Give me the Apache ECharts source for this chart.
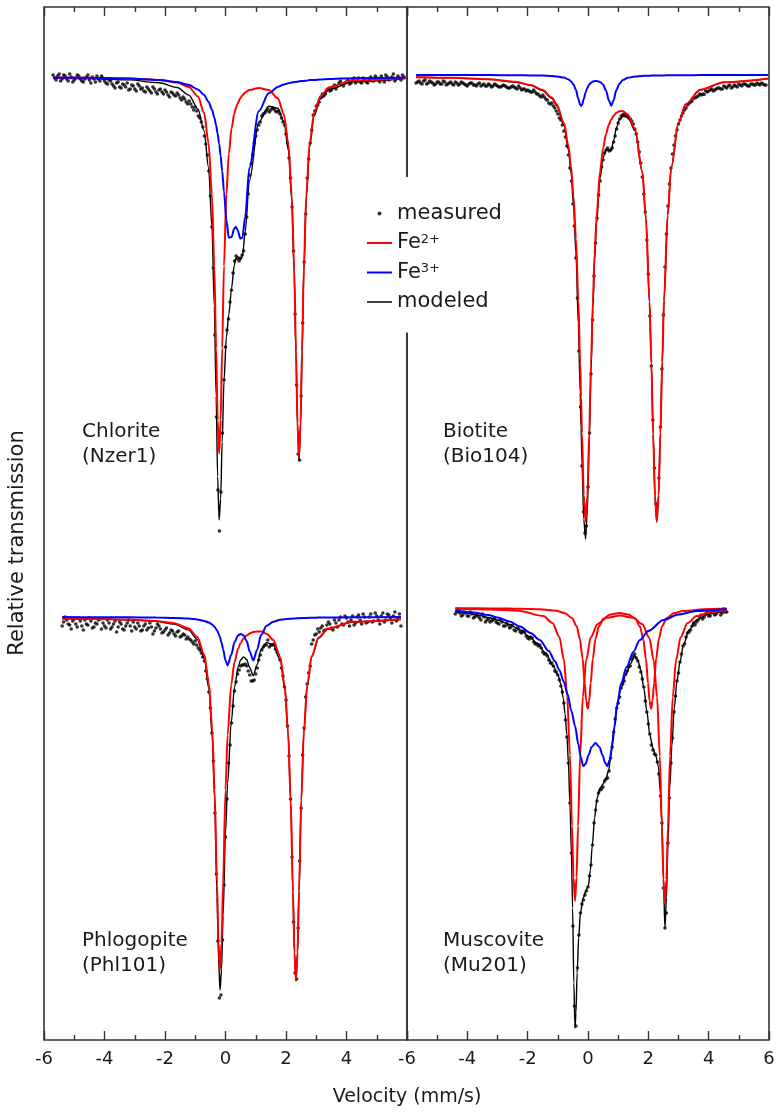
<!DOCTYPE html>
<html>
<head>
<meta charset="utf-8">
<title>Mössbauer spectra of four micas and chlorite</title>
<script src="https://cdn.jsdelivr.net/npm/echarts@6/dist/echarts.min.js"></script>
<style>
  html, body { margin: 0; padding: 0; background: #fff; }
  #chart { width: 779px; height: 1112px; }
</style>
</head>
<body>
<div id="chart"></div>
<script>
// velocity channels (mm/s) of the measured spectra
const wideChannels = [-5.7,-5.65,-5.6,-5.55,-5.5,-5.45,-5.4,-5.35,-5.3,-5.25,-5.2,-5.15,-5.1,-5.05,
  -5.0,-4.95,-4.9,-4.85,-4.8,-4.75,-4.7,-4.65,-4.6,-4.55,-4.5,-4.45,-4.4,-4.35,-4.3,-4.25,-4.2,-4.15,-4.1,-4.05,
  -4.0,-3.95,-3.9,-3.85,-3.8,-3.75,-3.7,-3.65,-3.6,-3.55,-3.5,-3.45,-3.4,-3.35,-3.3,-3.25,-3.2,-3.15,-3.1,-3.05,
  -3.0,-2.95,-2.9,-2.85,-2.8,-2.75,-2.7,-2.65,-2.6,-2.55,-2.5,-2.45,-2.4,-2.35,-2.3,-2.25,-2.2,-2.15,-2.1,-2.05,
  -2.0,-1.95,-1.9,-1.85,-1.8,-1.75,-1.7,-1.65,-1.6,-1.55,-1.5,-1.45,-1.4,-1.35,-1.3,-1.25,-1.2,-1.15,-1.1,-1.05,
  -1.0,-0.95,-0.9,-0.85,-0.8,-0.75,-0.7,-0.65,-0.6,-0.55,-0.5,-0.45,-0.4,-0.35,-0.3,-0.25,-0.2,-0.15,-0.1,-0.05,
  0.0,0.05,0.1,0.15,0.2,0.25,0.3,0.35,0.4,0.45,0.5,0.55,0.6,0.65,0.7,0.75,0.8,0.85,0.9,0.95,
  1.0,1.05,1.1,1.15,1.2,1.25,1.3,1.35,1.4,1.45,1.5,1.55,1.6,1.65,1.7,1.75,1.8,1.85,1.9,1.95,
  2.0,2.05,2.1,2.15,2.2,2.25,2.3,2.35,2.4,2.45,2.5,2.55,2.6,2.65,2.7,2.75,2.8,2.85,2.9,2.95,
  3.0,3.05,3.1,3.15,3.2,3.25,3.3,3.35,3.4,3.45,3.5,3.55,3.6,3.65,3.7,3.75,3.8,3.85,3.9,3.95,
  4.0,4.05,4.1,4.15,4.2,4.25,4.3,4.35,4.4,4.45,4.5,4.55,4.6,4.65,4.7,4.75,4.8,4.85,4.9,4.95,
  5.0,5.05,5.1,5.15,5.2,5.25,5.3,5.35,5.4,5.45,5.5,5.55,5.6,5.65,5.7,5.75,5.8,5.85,5.9]
const phlogopiteChannels = [-5.4,-5.35,-5.3,-5.25,-5.2,-5.15,-5.1,-5.05,
  -5.0,-4.95,-4.9,-4.85,-4.8,-4.75,-4.7,-4.65,-4.6,-4.55,-4.5,-4.45,-4.4,-4.35,-4.3,-4.25,-4.2,-4.15,-4.1,-4.05,
  -4.0,-3.95,-3.9,-3.85,-3.8,-3.75,-3.7,-3.65,-3.6,-3.55,-3.5,-3.45,-3.4,-3.35,-3.3,-3.25,-3.2,-3.15,-3.1,-3.05,
  -3.0,-2.95,-2.9,-2.85,-2.8,-2.75,-2.7,-2.65,-2.6,-2.55,-2.5,-2.45,-2.4,-2.35,-2.3,-2.25,-2.2,-2.15,-2.1,-2.05,
  -2.0,-1.95,-1.9,-1.85,-1.8,-1.75,-1.7,-1.65,-1.6,-1.55,-1.5,-1.45,-1.4,-1.35,-1.3,-1.25,-1.2,-1.15,-1.1,-1.05,
  -1.0,-0.95,-0.9,-0.85,-0.8,-0.75,-0.7,-0.65,-0.6,-0.55,-0.5,-0.45,-0.4,-0.35,-0.3,-0.25,-0.2,-0.15,-0.1,-0.05,
  0.0,0.05,0.1,0.15,0.2,0.25,0.3,0.35,0.4,0.45,0.5,0.55,0.6,0.65,0.7,0.75,0.8,0.85,0.9,0.95,
  1.0,1.05,1.1,1.15,1.2,1.25,1.3,1.35,1.4,1.45,1.5,1.55,1.6,1.65,1.7,1.75,1.8,1.85,1.9,1.95,
  2.0,2.05,2.1,2.15,2.2,2.25,2.3,2.35,2.4,2.45,2.5,2.55,2.6,2.65,2.7,2.75,2.8,2.85,2.9,2.95,
  3.0,3.05,3.1,3.15,3.2,3.25,3.3,3.35,3.4,3.45,3.5,3.55,3.6,3.65,3.7,3.75,3.8,3.85,3.9,3.95,
  4.0,4.05,4.1,4.15,4.2,4.25,4.3,4.35,4.4,4.45,4.5,4.55,4.6,4.65,4.7,4.75,4.8,4.85,4.9,4.95,
  5.0,5.05,5.1,5.15,5.2,5.25,5.3,5.35,5.4,5.45,5.5,5.55,5.6,5.65,5.7,5.75,5.8]
const muscoviteChannels = [-4.4,-4.35,-4.3,-4.25,-4.2,-4.15,-4.1,-4.05,
  -4.0,-3.95,-3.9,-3.85,-3.8,-3.75,-3.7,-3.65,-3.6,-3.55,-3.5,-3.45,-3.4,-3.35,-3.3,-3.25,-3.2,-3.15,-3.1,-3.05,
  -3.0,-2.95,-2.9,-2.85,-2.8,-2.75,-2.7,-2.65,-2.6,-2.55,-2.5,-2.45,-2.4,-2.35,-2.3,-2.25,-2.2,-2.15,-2.1,-2.05,
  -2.0,-1.95,-1.9,-1.85,-1.8,-1.75,-1.7,-1.65,-1.6,-1.55,-1.5,-1.45,-1.4,-1.35,-1.3,-1.25,-1.2,-1.15,-1.1,-1.05,
  -1.0,-0.95,-0.9,-0.85,-0.8,-0.75,-0.7,-0.65,-0.6,-0.55,-0.5,-0.45,-0.4,-0.35,-0.3,-0.25,-0.2,-0.15,-0.1,-0.05,
  0.0,0.05,0.1,0.15,0.2,0.25,0.3,0.35,0.4,0.45,0.5,0.55,0.6,0.65,0.7,0.75,0.8,0.85,0.9,0.95,
  1.0,1.05,1.1,1.15,1.2,1.25,1.3,1.35,1.4,1.45,1.5,1.55,1.6,1.65,1.7,1.75,1.8,1.85,1.9,1.95,
  2.0,2.05,2.1,2.15,2.2,2.25,2.3,2.35,2.4,2.45,2.5,2.55,2.6,2.65,2.7,2.75,2.8,2.85,2.9,2.95,
  3.0,3.05,3.1,3.15,3.2,3.25,3.3,3.35,3.4,3.45,3.5,3.55,3.6,3.65,3.7,3.75,3.8,3.85,3.9,3.95,
  4.0,4.05,4.1,4.15,4.2,4.25,4.3,4.35,4.4,4.45,4.5,4.55,4.6]

// relative transmission, stacked (arbitrary units, top spectra near 96, bottom near 42)
// Chlorite (Nzer1)
const chloriteMeasured = [96.5,96.2,96.0,96.4,96.6,95.9,96.1,96.5,96.4,96.1,95.9,96.6,96.3,95.8,
  96.0,96.2,96.5,96.4,96.1,95.9,95.8,96.1,96.3,96.5,96.0,95.7,96.3,96.1,95.8,96.4,96.1,95.9,96.4,96.2,
  95.9,95.7,95.6,96.0,95.9,95.6,95.4,95.2,95.7,95.8,95.3,95.2,95.6,95.5,95.3,95.7,95.0,95.1,95.5,95.4,
  95.1,94.9,95.6,95.4,95.1,95.2,94.9,94.8,95.3,95.1,94.9,94.7,95.3,95.1,94.8,94.6,95.0,95.1,94.8,94.6,
  95.0,94.8,94.5,94.3,94.8,94.7,94.5,94.4,94.7,94.5,94.2,94.0,94.3,94.1,93.8,93.6,93.9,93.6,93.3,93.0,
  93.3,92.9,92.4,92.2,91.8,91.3,90.4,89.6,88.5,86.9,84.4,81.3,77.2,70.5,62.3,55.0,50.9,54.8,60.7,66.0,
  69.3,71.0,72.1,73.8,75.0,76.7,77.9,78.4,78.1,77.9,78.2,78.5,78.9,80.6,82.3,84.6,86.5,87.6,88.5,89.7,
  90.4,91.0,91.5,91.8,92.4,92.6,92.7,92.9,93.1,92.8,93.0,93.2,93.1,92.9,92.8,92.9,92.6,92.2,91.8,91.5,
  90.6,89.7,88.2,86.2,83.3,78.9,72.6,65.5,58.6,58.0,64.4,71.7,77.8,82.6,86.2,88.1,89.7,91.0,92.5,92.9,
  93.4,93.5,93.8,94.3,94.6,94.4,94.6,95.0,95.1,94.9,95.0,95.3,95.5,95.1,95.4,95.7,95.9,95.6,95.4,95.7,
  95.8,96.0,95.6,95.7,96.0,96.2,95.7,95.9,96.2,95.8,95.7,96.2,96.0,95.8,95.7,96.1,96.3,95.9,95.9,96.4,
  96.2,96.0,95.8,96.4,96.1,95.8,96.5,96.3,96.0,96.1,96.3,96.6,95.9,96.1,96.4,96.2,96.0,96.5,96.3]
const chloriteCurveV = [-5.7,-4.5,-3.2,-2.2,-1.6,-1.21,-0.91,-0.71,-0.56,-0.45,-0.37,-0.31,-0.26,-0.21,-0.16,-0.11,-0.05,0.03,0.11,0.2,0.29,0.34,0.4,0.49,0.56,0.65,0.79,1.1,1.43,1.73,1.93,2.08,2.19,2.27,2.33,2.38,2.43,2.48,2.53,2.59,2.67,2.78,2.93,3.13,3.43,4.2,5.95]
const chloriteFe2 = [96.25,96.23,96.16,96.01,95.75,95.29,94.35,92.72,89.7,84.63,77.43,69.22,62.01,58.67,62.01,69.21,77.41,84.61,88.62,91.16,92.62,93.17,93.65,94.18,94.47,94.75,95.0,95.21,95.0,94.17,92.58,89.58,84.49,77.23,68.96,61.7,58.34,61.7,68.97,77.25,84.52,89.65,92.69,94.33,95.27,95.94,96.2]
const chloriteFe3 = [96.25,96.22,96.15,96.01,95.8,95.5,95.05,94.51,93.83,93.05,92.26,91.47,90.64,89.62,88.39,86.89,84.82,82.01,80.23,80.3,81.16,81.31,81.01,80.14,80.23,82.33,87.22,92.88,94.67,95.31,95.55,95.68,95.75,95.79,95.81,95.83,95.87,95.88,95.9,95.91,95.93,95.99,96.01,96.06,96.1,96.18,96.24]
const chloriteModel = [96.2,96.15,96.01,95.72,95.25,94.49,93.1,90.93,87.23,81.4,73.4,64.4,56.35,52.0,54.1,59.8,65.93,70.32,72.55,75.16,77.48,78.18,78.36,78.02,78.4,80.78,85.92,91.79,93.37,93.18,91.83,88.96,83.94,76.72,68.47,61.23,57.91,61.28,68.57,76.86,84.15,89.34,92.4,94.09,95.07,95.82,96.14]

// Biotite (Bio104)
const biotiteMeasured = [95.7,95.8,95.9,95.7,95.6,95.9,96.0,95.6,95.7,95.9,95.8,95.7,95.5,95.6,
  95.8,95.8,95.6,95.6,95.9,95.8,95.5,95.6,95.7,95.8,95.6,95.5,95.8,95.7,95.5,95.6,95.8,95.7,95.6,95.5,
  95.4,95.6,95.7,95.7,95.5,95.5,95.4,95.6,95.7,95.4,95.5,95.6,95.4,95.4,95.6,95.5,95.3,95.4,95.6,95.5,
  95.4,95.3,95.3,95.4,95.5,95.4,95.3,95.2,95.2,95.3,95.4,95.3,95.2,95.1,95.4,95.2,95.0,95.1,95.1,94.9,
  95.0,94.9,94.8,94.8,95.0,94.8,94.6,94.6,94.4,94.3,94.5,94.3,94.1,94.0,93.7,93.6,93.7,93.4,93.2,92.9,
  92.6,92.2,92.0,91.5,90.9,90.3,89.4,88.5,87.2,85.9,83.6,81.4,78.2,74.2,68.9,63.3,57.4,52.8,50.7,51.4,
  55.3,60.7,66.6,72.0,76.4,79.7,82.2,84.5,85.9,87.3,88.0,88.7,89.0,89.2,88.9,89.0,89.2,89.8,90.4,91.1,
  91.7,92.1,92.4,92.5,92.6,92.5,92.4,92.2,92.1,91.9,91.6,91.1,90.6,89.8,88.8,87.7,86.3,84.6,82.8,80.0,
  76.6,72.4,67.4,62.0,57.2,53.6,53.5,56.2,61.3,67.1,72.5,77.3,80.6,83.4,85.6,87.2,88.6,89.5,90.4,91.0,
  91.6,92.0,92.4,92.7,93.0,93.2,93.5,93.65,93.8,93.9,94.2,94.2,94.3,94.4,94.6,94.5,94.6,94.55,94.9,94.8,
  94.9,95.0,95.1,94.9,95.0,95.1,95.2,95.2,95.1,95.1,95.4,95.3,95.2,95.4,95.5,95.2,95.3,95.5,95.4,95.3,
  95.6,95.5,95.4,95.6,95.6,95.5,95.4,95.4,95.6,95.6,95.5,95.5,95.7,95.6,95.5,95.7,95.6,95.5,95.5]
const biotiteCurveV = [-5.7,-4.5,-3.3,-2.4,-1.9,-1.52,-1.2,-1.04,-0.8,-0.65,-0.56,-0.48,-0.4,-0.32,-0.26,-0.23,-0.2,-0.14,-0.08,-0.02,0.04,0.1,0.16,0.22,0.28,0.4,0.5,0.6,0.69,0.77,0.85,0.94,1.04,1.16,1.32,1.56,1.8,1.92,2.04,2.1,2.16,2.22,2.28,2.34,2.4,2.46,2.52,2.64,2.76,3.0,3.24,3.72,4.5,5.97]
const biotiteFe2 = [96.28,96.22,96.08,95.82,95.5,95.03,94.26,93.58,91.73,89.46,87.27,84.38,80.18,73.98,67.78,64.3,60.71,54.47,51.85,54.42,60.62,67.65,73.79,78.61,82.19,86.87,89.18,90.63,91.52,92.06,92.44,92.72,92.88,92.88,92.55,91.06,86.87,82.19,73.79,67.65,60.62,54.42,51.85,54.47,60.71,67.78,73.98,82.48,87.27,91.73,93.58,95.03,95.77,96.15]
const biotiteFe3 = [96.5,96.49,96.49,96.48,96.46,96.44,96.4,96.36,96.24,96.06,95.85,95.54,94.99,94.12,93.52,93.42,93.51,94.09,94.75,95.23,95.54,95.73,95.84,95.9,95.91,95.81,95.54,94.93,93.98,93.42,94.0,94.99,95.63,96.0,96.22,96.35,96.41,96.42,96.43,96.44,96.44,96.45,96.45,96.45,96.46,96.46,96.46,96.47,96.47,96.48,96.48,96.49,96.49,96.5]
const biotiteModel = [96.28,96.21,96.06,95.8,95.46,94.97,94.16,93.44,91.47,89.02,86.62,83.42,78.67,71.6,64.8,61.22,57.72,52.06,50.1,53.15,59.66,66.88,73.13,78.01,81.6,86.18,88.22,89.06,89.0,88.98,89.94,91.21,92.01,92.38,92.27,90.91,86.78,82.11,73.72,67.59,60.56,54.37,51.8,54.42,60.67,67.74,73.94,82.45,87.24,91.71,93.56,95.02,95.76,96.14]

// Phlogopite (Phl101)
const phlogopiteMeasured = [41.4,41.8,42.3,42.0,41.6,41.5,41.1,41.9,
  42.1,41.6,41.3,42.2,41.9,41.4,41.0,42.0,41.6,41.5,42.2,41.9,41.2,41.3,41.7,41.6,42.0,42.1,41.1,41.7,
  41.4,41.2,42.0,41.7,41.1,41.3,41.6,41.9,40.8,41.3,41.8,41.6,41.1,41.0,41.4,41.7,42.0,41.4,40.9,41.8,
  41.3,41.1,41.7,41.4,40.9,41.0,41.4,41.6,41.0,41.2,41.7,41.3,40.6,40.9,41.2,41.6,41.4,41.1,40.7,40.8,
  41.0,41.2,40.5,40.7,41.0,40.9,40.6,40.4,40.8,40.9,40.3,40.4,40.6,40.5,40.1,40.3,40.1,40.0,39.8,39.6,
  39.9,39.5,39.2,39.0,38.7,38.3,37.9,36.9,36.1,34.8,33.2,30.7,27.9,22.7,16.6,9.9,4.2,4.5,10.0,15.5,
  20.3,24.1,27.7,29.5,31.7,33.4,34.9,35.8,36.6,37.0,37.4,37.5,37.5,37.6,37.4,36.9,36.5,35.9,35.9,36.0,
  36.6,37.2,38.0,38.5,39.0,39.3,39.5,39.5,40.0,39.3,39.5,39.5,39.6,39.1,38.8,38.5,38.0,37.2,36.4,35.3,
  34.0,31.4,28.4,24.1,18.3,11.8,6.7,6.1,11.2,17.9,23.2,28.5,31.2,34.3,35.6,36.7,37.4,39.6,40.0,40.5,
  40.6,41.1,40.8,41.2,41.4,40.9,41.0,41.5,41.8,41.6,41.2,41.0,42.0,41.7,41.3,42.0,42.3,41.6,41.5,42.4,
  42.2,41.8,41.4,42.0,42.4,41.5,41.7,42.3,42.5,42.0,41.6,42.6,42.3,41.7,41.8,42.3,42.6,41.8,41.9,42.7,
  42.4,42.0,41.6,42.4,42.7,41.8,42.0,42.6,42.5,42.2,41.7,42.4,42.8,41.9,42.1,42.6,41.4]
const phlogopiteCurveV = [-5.4,-4.3,-3.2,-2.3,-1.7,-1.23,-0.93,-0.7,-0.55,-0.44,-0.36,-0.28,-0.23,-0.18,-0.13,-0.08,0.0,0.07,0.19,0.3,0.42,0.5,0.6,0.7,0.8,0.92,1.04,1.18,1.36,1.58,1.81,1.96,2.07,2.155,2.23,2.28,2.33,2.38,2.43,2.505,2.59,2.7,2.85,3.08,3.38,4.2,5.8]
const phlogopiteFe2 = [42.14,42.11,42.05,41.91,41.68,41.17,40.3,38.52,35.67,31.15,25.06,15.67,9.7,7.03,9.66,15.63,25.01,30.48,35.56,37.82,39.16,39.7,40.16,40.46,40.66,40.79,40.84,40.84,40.62,40.0,38.27,35.39,30.77,24.0,14.87,8.73,6.03,8.75,14.89,24.04,30.82,35.47,38.4,40.24,41.14,41.83,42.08]
const phlogopiteFe3 = [42.29,42.28,42.27,42.25,42.21,42.14,42.05,41.91,41.74,41.54,41.31,40.96,40.66,40.25,39.73,39.08,37.96,37.46,38.52,39.79,40.47,40.6,40.44,39.89,38.86,37.94,39.0,40.52,41.42,41.83,42.02,42.08,42.11,42.13,42.14,42.15,42.17,42.18,42.18,42.19,42.2,42.21,42.22,42.24,42.25,42.27,42.29]
const phlogopiteModel = [42.13,42.1,42.02,41.86,41.59,41.01,40.05,38.13,35.11,30.39,24.07,14.33,8.06,4.98,7.09,12.41,20.67,25.64,31.78,35.31,37.33,38.0,38.3,38.05,37.22,36.43,37.54,39.06,39.74,39.53,37.99,35.17,30.58,23.83,14.71,8.58,5.9,8.63,14.77,23.93,30.72,35.38,38.32,40.18,41.09,41.8,42.07]

// Muscovite (Mu201)
const muscoviteMeasured = [42.6,42.8,43.1,42.7,42.4,42.5,42.8,42.7,
  42.4,42.4,42.8,42.6,42.2,42.3,42.5,42.4,42.2,42.0,42.6,42.3,41.8,42.0,42.1,41.8,41.9,42.0,42.2,41.8,
  41.7,41.6,42.0,41.8,41.4,41.4,41.7,41.5,41.2,41.3,41.5,41.0,40.9,41.2,41.1,40.8,40.7,40.9,40.8,40.4,
  40.2,40.1,40.3,40.2,39.8,39.6,39.6,39.4,39.5,39.2,38.8,38.6,38.6,38.4,38.0,37.7,37.7,37.4,36.9,36.8,
  36.5,36.0,35.4,34.8,33.7,32.0,30.3,27.7,23.7,18.7,11.4,3.4,1.4,7.2,10.5,12.7,13.6,14.0,14.5,14.9,
  15.3,16.4,17.5,19.5,21.7,23.0,23.9,24.7,25.0,25.1,25.3,25.9,26.1,26.2,26.9,28.2,29.3,30.8,32.1,33.2,
  33.7,34.3,35.2,35.6,35.9,36.6,36.9,37.3,37.4,38.1,38.4,38.6,38.2,37.9,37.3,36.8,36.1,35.3,33.9,32.8,
  31.6,30.6,29.5,29.0,28.6,28.5,27.8,26.6,24.4,21.7,15.2,11.2,12.7,19.7,24.2,27.7,30.2,32.8,34.4,35.9,
  36.7,37.8,38.6,39.4,39.6,40.3,40.7,40.8,41.0,41.4,41.7,41.5,41.8,42.0,42.3,42.5,42.1,42.3,42.6,42.8,
  42.4,42.4,43.0,42.9,42.5,42.6,43.0,42.9,42.5,42.7,43.1,42.8,42.8]
const muscoviteFe2InnerV = [-4.4,-3.2,-2.2,-1.6,-1.06,-0.76,-0.53,-0.38,-0.27,-0.18,-0.11,-0.06,-0.01,0.04,0.09,0.16,0.25,0.36,0.51,0.74,1.04,1.34,1.57,1.72,1.83,1.92,1.99,2.04,2.09,2.14,2.19,2.26,2.35,2.46,2.61,2.84,3.14,4.0,4.6]
const muscoviteFe2Inner = [43.18,43.16,43.12,43.07,42.92,42.68,42.19,41.41,40.15,38.15,35.71,33.94,33.13,33.93,35.7,38.13,40.12,41.37,42.12,42.56,42.69,42.56,42.12,41.36,40.12,38.12,35.7,33.93,33.13,33.94,35.71,38.14,40.15,41.41,42.19,42.67,42.91,43.1,43.14]
const muscoviteFe2OuterV = [-4.4,-3.2,-2.3,-1.48,-1.18,-0.95,-0.8,-0.69,-0.6,-0.53,-0.48,-0.43,-0.38,-0.33,-0.26,-0.17,-0.06,0.09,0.32,0.62,1.06,1.5,1.8,2.03,2.18,2.29,2.38,2.45,2.5,2.55,2.6,2.65,2.72,2.81,2.92,3.07,3.3,3.6,4.1,4.6]
const muscoviteFe2Outer = [43.13,43.06,42.93,42.4,41.71,40.31,38.04,34.37,28.52,21.42,16.26,13.9,16.24,21.4,28.5,34.34,37.99,40.25,41.61,42.23,42.44,42.22,41.59,40.22,37.95,34.27,28.39,21.25,16.05,13.7,16.06,21.27,28.41,34.3,37.99,40.28,41.69,42.39,42.81,42.97]
const muscoviteFe3V = [-4.4,-3.8,-3.3,-3.0,-2.6,-2.25,-1.9,-1.6,-1.3,-1.1,-0.95,-0.8,-0.68,-0.55,-0.43,-0.32,-0.24,-0.16,-0.08,0.02,0.12,0.25,0.38,0.48,0.57,0.64,0.72,0.8,0.88,0.97,1.1,1.28,1.5,1.72,2.0,2.5,3.0,3.6,4.6]
const muscoviteFe3 = [42.95,42.75,42.5,42.25,41.85,41.35,40.7,40.0,38.9,37.9,37.0,35.8,34.6,32.9,31.4,29.6,28.3,27.4,27.6,28.5,29.3,29.7,29.3,28.5,27.7,27.4,28.0,29.4,31.3,33.6,35.7,37.3,38.8,40.0,40.9,42.0,42.55,42.9,43.1]
const muscoviteModelV = [-4.4,-4.0,-3.6,-3.3,-3.0,-2.6,-2.25,-1.95,-1.7,-1.4,-1.15,-1.0,-0.9,-0.82,-0.76,-0.7,-0.65,-0.6,-0.55,-0.51,-0.47,-0.43,-0.4,-0.36,-0.31,-0.25,-0.16,-0.06,0.01,0.08,0.14,0.22,0.3,0.4,0.5,0.6,0.68,0.76,0.84,0.95,1.1,1.25,1.4,1.55,1.65,1.75,1.85,1.95,2.05,2.15,2.25,2.33,2.4,2.45,2.5,2.55,2.6,2.65,2.71,2.78,2.86,2.95,3.05,3.16,3.35,3.6,4.0,4.6]
const muscoviteModel = [42.85,42.7,42.45,42.25,42.0,41.55,41.0,40.35,39.7,38.7,37.4,36.5,35.6,34.2,32.6,30.5,27.7,23.7,18.7,13.2,5.7,1.2,2.7,6.7,10.2,12.7,14.2,15.0,15.4,17.0,19.4,22.2,24.2,25.2,25.6,26.2,26.9,28.4,30.7,33.2,35.2,36.5,37.6,38.4,38.0,37.0,35.2,32.9,30.5,29.2,28.4,27.4,24.7,21.7,16.2,11.2,14.2,19.7,25.2,29.4,33.2,35.9,37.8,39.5,41.0,42.0,42.6,42.95]

const FONT = 'DejaVu Sans'
const TEXT = '#1a1a1a'
const FRAME = '#333'
const RED = '#ff0000'
const BLUE = '#0000ff'

const chart = echarts.init(document.getElementById('chart'), null, { renderer: 'canvas' })

function pairs(xs, ys) {
  return xs.map((x, i) => [x, ys[i]])
}

function curve(name, color, width, grid, xs, ys) {
  return {
    name,
    type: 'line',
    xAxisIndex: grid * 2,
    yAxisIndex: grid,
    data: pairs(xs, ys),
    symbol: 'none',
    smooth: 0.3,
    smoothMonotone: 'x',
    lineStyle: { color, width },
    itemStyle: { color },
    silent: true
  }
}

function measured(grid, xs, ys) {
  return {
    name: 'measured',
    type: 'scatter',
    xAxisIndex: grid * 2,
    yAxisIndex: grid,
    data: pairs(xs, ys),
    symbol: 'circle',
    symbolSize: 3.6,
    itemStyle: { color: '#000' },
    silent: true
  }
}

function velocityAxes(grid, hideLast) {
  const common = {
    type: 'value',
    gridIndex: grid,
    min: -6,
    max: 6,
    interval: 2,
    axisLine: { show: false },
    axisTick: { show: true, inside: true, length: 9, lineStyle: { color: FRAME, width: 1.4 } },
    minorTick: { show: true, splitNumber: 2, length: 5, lineStyle: { color: FRAME, width: 1.4 } },
    splitLine: { show: false },
    minorSplitLine: { show: false }
  }
  return [
    {
      ...common,
      position: 'bottom',
      axisLabel: {
        show: true,
        margin: 10,
        color: TEXT,
        fontFamily: FONT,
        fontSize: 18,
        showMaxLabel: !hideLast
      }
    },
    { ...common, position: 'top', axisLabel: { show: false } }
  ]
}

function transmissionAxis(grid) {
  return {
    type: 'value',
    gridIndex: grid,
    min: 0,
    max: 103.3,
    axisLine: { show: false },
    axisTick: { show: false },
    axisLabel: { show: false },
    splitLine: { show: false }
  }
}

function textMark(x, y, text, size, align, rotation) {
  return {
    type: 'text',
    x,
    y,
    rotation: rotation || 0,
    silent: true,
    style: {
      text,
      fill: TEXT,
      font: `${size}px "${FONT}"`,
      lineHeight: 25,
      align,
      verticalAlign: 'middle',
      textAlign: align,
      textVerticalAlign: 'middle'
    }
  }
}

const gridBase = {
  top: 7,
  height: 1033,
  show: true,
  borderColor: FRAME,
  borderWidth: 1.6,
  backgroundColor: 'transparent',
  outerBoundsMode: 'none'
}

chart.setOption({
  animation: false,
  backgroundColor: '#fff',
  grid: [
    { ...gridBase, left: 44, width: 363 },
    { ...gridBase, left: 407, width: 362 }
  ],
  xAxis: [...velocityAxes(0, true), ...velocityAxes(1, false)],
  yAxis: [transmissionAxis(0), transmissionAxis(1)],
  legend: {
    data: [
      { name: 'measured', icon: 'circle' },
      { name: 'Fe2+', icon: 'path://M0,0H25V2H0Z' },
      { name: 'Fe3+', icon: 'path://M0,0H25V2H0Z' },
      { name: 'modeled', icon: 'path://M0,0H25V1.5H0Z' }
    ],
    orient: 'vertical',
    left: 360,
    top: 177,
    padding: [26, 16, 20, 7],
    itemWidth: 25,
    itemHeight: 4,
    itemGap: 8.5,
    backgroundColor: '#fff',
    selectedMode: false,
    formatter: (name) => {
      if (name === 'Fe2+') return 'Fe{sup|2+}'
      if (name === 'Fe3+') return 'Fe{sup|3+}'
      return name
    },
    textStyle: {
      color: TEXT,
      fontFamily: FONT,
      fontSize: 21,
      lineHeight: 20,
      rich: {
        sup: { color: TEXT, fontFamily: FONT, fontSize: 13, lineHeight: 13, verticalAlign: 'top' }
      }
    }
  },
  graphic: [
    textMark(82, 444.5, 'Chlorite\n(Nzer1)', 20, 'left'),
    textMark(443, 444.5, 'Biotite\n(Bio104)', 20, 'left'),
    textMark(82, 953, 'Phlogopite\n(Phl101)', 20, 'left'),
    textMark(443, 953, 'Muscovite\n(Mu201)', 20, 'left'),
    textMark(407, 1097, 'Velocity (mm/s)', 19, 'center'),
    textMark(18, 543, 'Relative transmission', 21, 'center', Math.PI / 2)
  ],
  series: [
    curve('modeled', '#000', 1.4, 0, chloriteCurveV, chloriteModel),
    curve('Fe2+', RED, 2, 0, chloriteCurveV, chloriteFe2),
    curve('Fe3+', BLUE, 2, 0, chloriteCurveV, chloriteFe3),
    measured(0, wideChannels, chloriteMeasured),

    curve('modeled', '#000', 1.4, 0, phlogopiteCurveV, phlogopiteModel),
    curve('Fe2+', RED, 2, 0, phlogopiteCurveV, phlogopiteFe2),
    curve('Fe3+', BLUE, 2, 0, phlogopiteCurveV, phlogopiteFe3),
    measured(0, phlogopiteChannels, phlogopiteMeasured),

    curve('modeled', '#000', 1.4, 1, biotiteCurveV, biotiteModel),
    curve('Fe2+', RED, 2, 1, biotiteCurveV, biotiteFe2),
    curve('Fe3+', BLUE, 2, 1, biotiteCurveV, biotiteFe3),
    measured(1, wideChannels, biotiteMeasured),

    curve('modeled', '#000', 1.4, 1, muscoviteModelV, muscoviteModel),
    curve('Fe2+', RED, 2, 1, muscoviteFe2InnerV, muscoviteFe2Inner),
    curve('Fe2+', RED, 2, 1, muscoviteFe2OuterV, muscoviteFe2Outer),
    curve('Fe3+', BLUE, 2, 1, muscoviteFe3V, muscoviteFe3),
    measured(1, muscoviteChannels, muscoviteMeasured)
  ]
})
</script>
</body>
</html>
